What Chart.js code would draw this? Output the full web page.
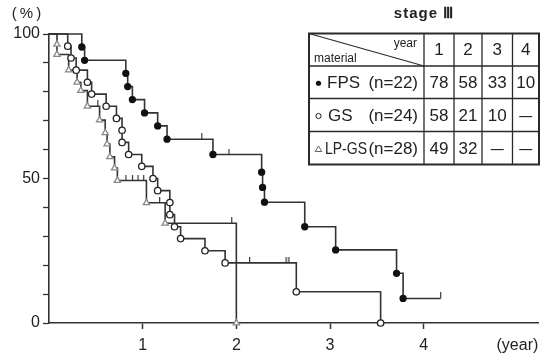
<!DOCTYPE html>
<html><head><meta charset="utf-8">
<script src="https://cdn.jsdelivr.net/npm/chart.js@4/dist/chart.umd.min.js"></script>
<style>html,body{margin:0;padding:0;background:#fff;}#wrap{width:549px;height:355px;position:relative;}</style>
</head><body><div id="wrap"><canvas id="c" width="549" height="355"></canvas></div>
<script>
// ---- data ----
const fpsTime   = [0, 0.35, 0.38, 0.82, 0.84, 0.89, 1.02, 1.16, 1.26, 1.63, 1.75, 1.92, 2.27, 2.28, 2.30, 2.73, 3.06, 3.71, 3.78, 4.18];
const fpsSurv   = [100, 95.5, 90.9, 86.4, 81.8, 77.3, 72.7, 68.2, 63.6, 63.6, 58.3, 58.3, 52.2, 46.9, 41.8, 33.3, 25.3, 17.2, 8.5, 8.5];
const fpsCensor = [0, 0, 0, 0, 0, 0, 0, 0, 0, 1, 0, 1, 0, 0, 0, 0, 0, 0, 0, 1];

const gsTime   = [0, 0.20, 0.235, 0.29, 0.41, 0.455, 0.61, 0.72, 0.78, 0.78, 0.85, 0.99, 1.11, 1.16, 1.29, 1.29, 1.34, 1.405, 1.665, 1.88, 2.14, 2.53, 2.56, 2.64, 3.54];
const gsSurv   = [100, 95.8, 91.7, 87.5, 83.3, 79.2, 75.0, 70.8, 66.7, 62.5, 58.3, 54.2, 50.0, 45.8, 41.7, 37.5, 33.3, 29.2, 25.0, 20.8, 20.8, 20.8, 20.8, 10.8, 0];
const gsCensor = [0, 0, 0, 0, 0, 0, 0, 0, 0, 0, 0, 0, 0, 0, 0, 0, 0, 0, 0, 0, 1, 1, 1, 0, 0];

const lpTime   = [0, 0.085, 0.085, 0.21, 0.30, 0.34, 0.41, 0.52, 0.54, 0.60, 0.62, 0.65, 0.70, 0.73, 0.82, 0.89, 0.95, 1.01, 1.04, 1.18, 1.24, 1.95, 2.0];
const lpSurv   = [100, 96.4, 92.9, 87.5, 83.3, 80.4, 75.0, 75.0, 70.2, 65.8, 61.9, 57.5, 53.6, 49.3, 49.3, 49.3, 49.3, 49.3, 41.6, 41.6, 34.5, 34.5, 0];
const lpCensor = [0, 0, 0, 0, 0, 0, 0, 1, 0, 0, 0, 0, 0, 0, 1, 1, 1, 1, 0, 1, 0, 1, 0];

const yLabelValues = [0, 50, 100];
const xTickValues  = [1, 2, 3, 4, 5];
const xTickLabels  = ['1', '2', '3', '4', '(year)'];
const yUnitLabel   = '(%)';

const tableTitle   = 'stage Ⅲ';
const headerYear   = 'year';
const headerMat    = 'material';
const yearCols     = ['1', '2', '3', '4'];
const seriesNames  = ['FPS', 'GS', 'LP-GS'];
const seriesCounts = ['(n=22)', '(n=24)', '(n=28)'];
const fpsRates = ['78', '58', '33', '10'];
const gsRates  = ['58', '21', '10', '—'];
const lpRates  = ['49', '32', '—', '—'];

// ---- censor tick image (vertical mark above the line) ----
const tickImg = document.createElement('canvas');
tickImg.width = 3; tickImg.height = 12;
(function(){ const g = tickImg.getContext('2d'); g.fillStyle = '#333'; g.fillRect(1, 0, 1.2, 6); })();

const LINE = '#333';
function series(times, survs, censors, shape, r, fill, stroke) {
  return {
    data: times.map((t, i) => ({x: t, y: survs[i]})),
    stepped: 'before', tension: 0, fill: false, clip: false,
    borderColor: LINE, borderWidth: 1.6,
    pointStyle: c => censors[c.dataIndex] ? tickImg : shape,
    pointRadius: c => c.dataIndex === 0 ? 0 : (censors[c.dataIndex] ? 1 : r),
    pointHoverRadius: c => c.dataIndex === 0 ? 0 : r,
    pointBackgroundColor: fill, pointBorderColor: stroke, pointBorderWidth: 1.3
  };
}

const FONT = "'Liberation Sans', Arial, sans-serif";

const tablePlugin = {
  id: 'stageTable',
  afterDraw(chart) {
    const ctx = chart.ctx, a = chart.chartArea;
    const xs = [a.right - 229, a.right - 114, a.right - 84, a.right - 56, a.right - 25.5, a.right + 1];
    const ys = [a.top - 0.5, a.top + 32, a.top + 64.5, a.top + 97.5, a.top + 130.5];
    ctx.save();
    ctx.fillStyle = '#fff';
    ctx.fillRect(xs[0], ys[0], xs[5] - xs[0], ys[4] - ys[0]);
    ctx.strokeStyle = '#2a2a2a';
    ctx.lineWidth = 1.3;
    ctx.beginPath();
    for (let i = 1; i < 5; i++) { ctx.moveTo(xs[i], ys[0]); ctx.lineTo(xs[i], ys[4]); }
    for (let j = 1; j < 4; j++) { ctx.moveTo(xs[0], ys[j]); ctx.lineTo(xs[5], ys[j]); }
    ctx.stroke();
    ctx.lineWidth = 1.1;
    ctx.beginPath(); ctx.moveTo(xs[0], ys[0]); ctx.lineTo(xs[1], ys[1]); ctx.stroke();
    ctx.lineWidth = 2;
    ctx.strokeRect(xs[0], ys[0], xs[5] - xs[0], ys[4] - ys[0]);

    ctx.fillStyle = '#222';
    ctx.textBaseline = 'middle';
    // title
    ctx.font = 'bold 15px ' + FONT;
    ctx.textAlign = 'center';
    ctx.letterSpacing = '1px';
    ctx.fillText(tableTitle, (xs[0] + xs[5]) / 2, 14);
    ctx.letterSpacing = '0px';
    // header
    ctx.font = '12px ' + FONT;
    ctx.textAlign = 'right';
    ctx.fillText(headerYear, xs[1] - 7, ys[0] + 10);
    ctx.textAlign = 'left';
    ctx.fillText(headerMat, xs[0] + 5, ys[1] - 7);
    ctx.font = '17px ' + FONT;
    ctx.textAlign = 'center';
    yearCols.forEach((t, i) => ctx.fillText(t, (xs[i + 1] + xs[i + 2]) / 2, (ys[0] + ys[1]) / 2 + 1));
    // rows
    const rates = [fpsRates, gsRates, lpRates];
    const nameX = [xs[0] + 18, xs[0] + 19, xs[0] + 16];
    for (let r = 0; r < 3; r++) {
      const cy = (ys[r + 1] + ys[r + 2]) / 2 + 1;
      const mx = xs[0] + 9.5;
      ctx.lineWidth = 1;
      if (r === 0) { ctx.beginPath(); ctx.arc(mx, cy, 2.6, 0, Math.PI * 2); ctx.fillStyle = '#111'; ctx.fill(); }
      else if (r === 1) { ctx.beginPath(); ctx.arc(mx, cy, 2.6, 0, Math.PI * 2); ctx.strokeStyle = '#222'; ctx.stroke(); }
      else { ctx.beginPath(); ctx.moveTo(mx, cy - 3); ctx.lineTo(mx + 3.3, cy + 2.5); ctx.lineTo(mx - 3.3, cy + 2.5); ctx.closePath(); ctx.strokeStyle = '#666'; ctx.stroke(); }
      ctx.fillStyle = '#222';
      ctx.font = '17px ' + FONT;
      ctx.textAlign = 'left';
      if (r === 2) ctx.fillText(seriesNames[r], nameX[r], cy, 42);
      else ctx.fillText(seriesNames[r], nameX[r], cy);
      ctx.textAlign = 'right';
      ctx.fillText(seriesCounts[r], xs[1] - 6, cy, 52);
      ctx.textAlign = 'center';
      ctx.font = '17px ' + FONT;
      rates[r].forEach((v, i) => {
        const cx = (xs[i + 1] + xs[i + 2]) / 2;
        if (v === '—') ctx.fillText(v, cx, cy, 13);
        else ctx.fillText(v, cx, cy, 24);
      });
    }
    // y unit
    ctx.font = '15px ' + FONT;
    ctx.textAlign = 'center';
    ctx.letterSpacing = '3px';
    ctx.fillText(yUnitLabel, 28, 14);
    ctx.restore();
  }
};

new Chart(document.getElementById('c'), {
  type: 'line',
  data: { datasets: [
    series(fpsTime, fpsSurv, fpsCensor, 'circle', 3, '#111', '#111'),
    series(gsTime, gsSurv, gsCensor, 'circle', 3.2, '#fff', '#222'),
    series(lpTime, lpSurv, lpCensor, 'triangle', 3.6, '#fff', '#888')
  ]},
  options: {
    responsive: false, animation: false, devicePixelRatio: 1,
    layout: { padding: { top: 34, right: 11, left: 0, bottom: 0 } },
    plugins: { legend: { display: false }, tooltip: { enabled: false } },
    scales: {
      x: {
        type: 'linear', min: 0, max: 5.22,
        afterFit: s => { s.height = 32; },
        afterBuildTicks: s => { s.ticks = xTickValues.map(v => ({ value: v })); },
        border: { display: true, color: LINE, width: 1.6 },
        grid: { drawOnChartArea: false, drawTicks: true, tickLength: 6, tickWidth: 1.5,
                tickColor: c => (c.tick && c.tick.value === 5) ? 'rgba(0,0,0,0)' : LINE },
        ticks: { autoSkip: false, maxRotation: 0, padding: 7, color: '#222',
                 font: { family: FONT, size: 16 },
                 callback: v => { const i = xTickValues.indexOf(v); return i >= 0 ? xTickLabels[i] : ''; } }
      },
      y: {
        min: 0, max: 100,
        afterFit: s => { s.width = 49; },
        border: { display: true, color: LINE, width: 1.6 },
        grid: { drawOnChartArea: false, drawTicks: true, tickLength: 6, tickWidth: 1.3, tickColor: LINE },
        ticks: { stepSize: 10, padding: 3, color: '#222', font: { family: FONT, size: 16 },
                 callback: v => yLabelValues.includes(v) ? String(v) : '' }
      }
    }
  },
  plugins: [tablePlugin]
});
</script></body></html>
